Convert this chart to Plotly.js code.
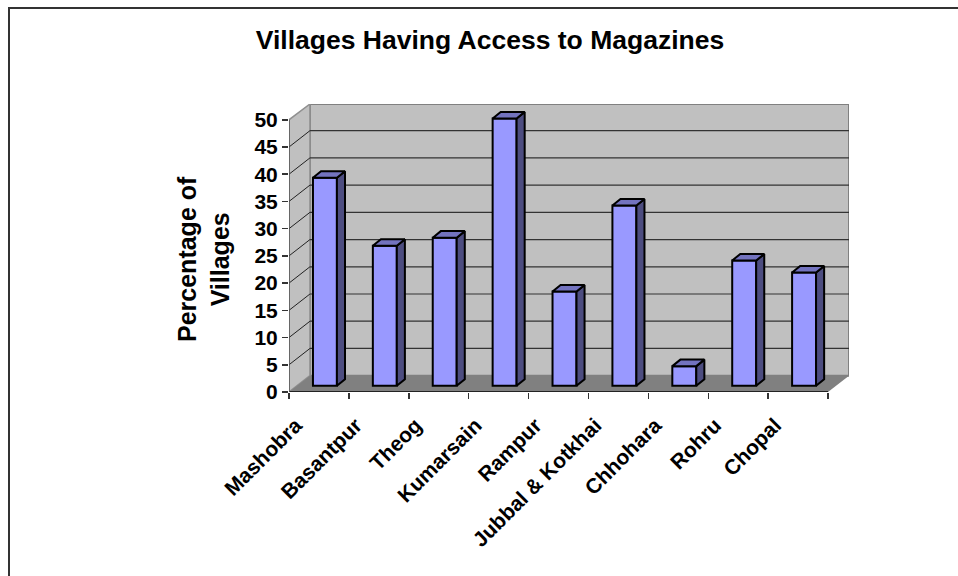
<!DOCTYPE html>
<html><head><meta charset="utf-8">
<script src="https://cdn.plot.ly/plotly-3.0.1.min.js"></script>
<style>html,body{margin:0;padding:0;background:#fff}</style></head>
<body><div id="chart" style="width:958px;height:576px"></div>
<script>
var categories = ["Mashobra","Basantpur","Theog","Kumarsain","Rampur","Jubbal & Kotkhai","Chhohara","Rohru","Chopal"];
var percentVillages = [38.2, 25.7, 27.2, 49.1, 17.3, 33.1, 3.6, 23, 20.8];
var yTicks = [0,5,10,15,20,25,30,35,40,45,50];

// oblique projection, in axis units
var wallDX = 0.35, wallDY = 3.0;      // depth of the floor/wall
var barDX = 0.135, barDY = 1.2;       // depth of one bar
var barBase = 1.15, barW = 0.4, barShift = -0.1;
var xMax = categories.length - 0.5 + wallDX, yMax = 50 + wallDY - 0.1;

var idx = categories.map(function(_, i){return i;});
var bounds = categories.map(function(_, i){return i-0.5;}).concat([categories.length-0.5]);

function poly(xs, ys){ return 'M'+xs.map(function(x,i){return x+','+ys[i];}).join('L')+'Z'; }
var shapes = [];
// walls and floor
shapes.push({type:'path',layer:'below',xref:'x',yref:'y',fillcolor:'#c0c0c0',line:{color:'#808080',width:2},
  path:poly([-0.5+wallDX,xMax,xMax,-0.5+wallDX],[wallDY,wallDY,yMax,yMax])});
shapes.push({type:'path',layer:'below',xref:'x',yref:'y',fillcolor:'#c0c0c0',line:{color:'#909090',width:1.5},
  path:poly([-0.5,-0.5+wallDX,-0.5+wallDX,-0.5],[0,wallDY,yMax,50])});
yTicks.forEach(function(v){
  if(v===0||v===50) return;
  shapes.push({type:'line',layer:'below',xref:'x',yref:'y',x0:-0.5+wallDX,x1:xMax,y0:v+wallDY,y1:v+wallDY,line:{color:'#333',width:1.2}});
  shapes.push({type:'line',layer:'below',xref:'x',yref:'y',x0:-0.5,x1:-0.5+wallDX,y0:v,y1:v+wallDY,line:{color:'#222',width:1}});
});
shapes.push({type:'path',layer:'below',xref:'x',yref:'y',fillcolor:'#808080',line:{width:0},
  path:poly([-0.5,categories.length-0.5,xMax,-0.5+wallDX],[0,0,wallDY,wallDY])});
// axis lines only span the front plane
shapes.push({type:'line',layer:'above',xref:'x',yref:'y',x0:-0.5,x1:categories.length-0.5,y0:0,y1:0,line:{color:'#222',width:2}});
shapes.push({type:'line',layer:'above',xref:'x',yref:'y',x0:-0.5,x1:-0.5,y0:0,y1:50,line:{color:'#555',width:1.5}});
// chart frame (left and top edges)
var px=function(p){return (p-289)/560;}, py=function(p){return (392-p)/288;};
shapes.push({type:'path',layer:'above',xref:'paper',yref:'paper',line:{color:'#333',width:2},
  path:'M'+px(9)+','+py(576)+'L'+px(9)+','+py(8)+'L'+px(958)+','+py(8)});

var sideX=[],sideY=[],topX=[],topY=[];
idx.forEach(function(i){
  var l=i+barShift, r=l+barW, b=barBase, t=barBase+percentVillages[i];
  sideX.push(r,r+barDX,r+barDX,r,r,null); sideY.push(b,b+barDY,t+barDY,t,b,null);
  topX.push(l,l+barDX,r+barDX,r,l,null); topY.push(t,t+barDY,t+barDY,t,t,null);
});

var traces = [
 {type:'bar',x:idx,y:percentVillages,base:barBase,width:barW,offset:barShift,
  marker:{color:'#9999ff',line:{color:'#000',width:2}},hoverinfo:'skip',showlegend:false},
 {type:'scatter',mode:'lines',x:sideX,y:sideY,fill:'toself',fillcolor:'#4d4d80',line:{color:'#000',width:2},hoverinfo:'skip',showlegend:false},
 {type:'scatter',mode:'lines',x:topX,y:topY,fill:'toself',fillcolor:'#7373bf',line:{color:'#000',width:2},hoverinfo:'skip',showlegend:false}
];
var F='"Liberation Sans", Arial, sans-serif';
var layout = {
  width:958,height:576,showlegend:false,paper_bgcolor:'#fff',plot_bgcolor:'rgba(0,0,0,0)',
  margin:{l:289,r:109,t:104,b:184,pad:0},
  font:{family:F,color:'#000'},
  title:{text:'<b>Villages Having Access to Magazines</b>',font:{family:F,size:26.5,color:'#000'},x:490/958,xanchor:'center',y:1-40/576,yanchor:'middle'},
  xaxis:{type:'linear',range:[-0.5,xMax],tickmode:'array',tickvals:idx,ticktext:categories,ticks:'',
    tickangle:-45,tickfont:{family:F,size:21,weight:700,color:'#000'},showgrid:false,zeroline:false,
    showline:false,automargin:false,ticklabelshift:-23,ticklabelstandoff:16,
    minor:{tickmode:'array',tickvals:bounds,ticks:'outside',ticklen:6,tickwidth:1.5,tickcolor:'#333',showgrid:false}},
  yaxis:{range:[0,yMax],tickmode:'array',tickvals:yTicks,ticks:'outside',ticklen:6,tickwidth:1.5,tickcolor:'#333',
    tickfont:{family:F,size:21,weight:700,color:'#000'},showgrid:false,zeroline:false,showline:false,automargin:false},
  annotations:[{xref:'paper',yref:'paper',x:px(203),y:py(259),xanchor:'center',yanchor:'middle',textangle:-90,showarrow:false,align:'center',
    text:'<b>Percentage of<br>Villages</b>',font:{family:F,size:25,color:'#000'}}],
  shapes:shapes
};
Plotly.newPlot('chart',traces,layout,{displayModeBar:false,staticPlot:true});
</script></body></html>
